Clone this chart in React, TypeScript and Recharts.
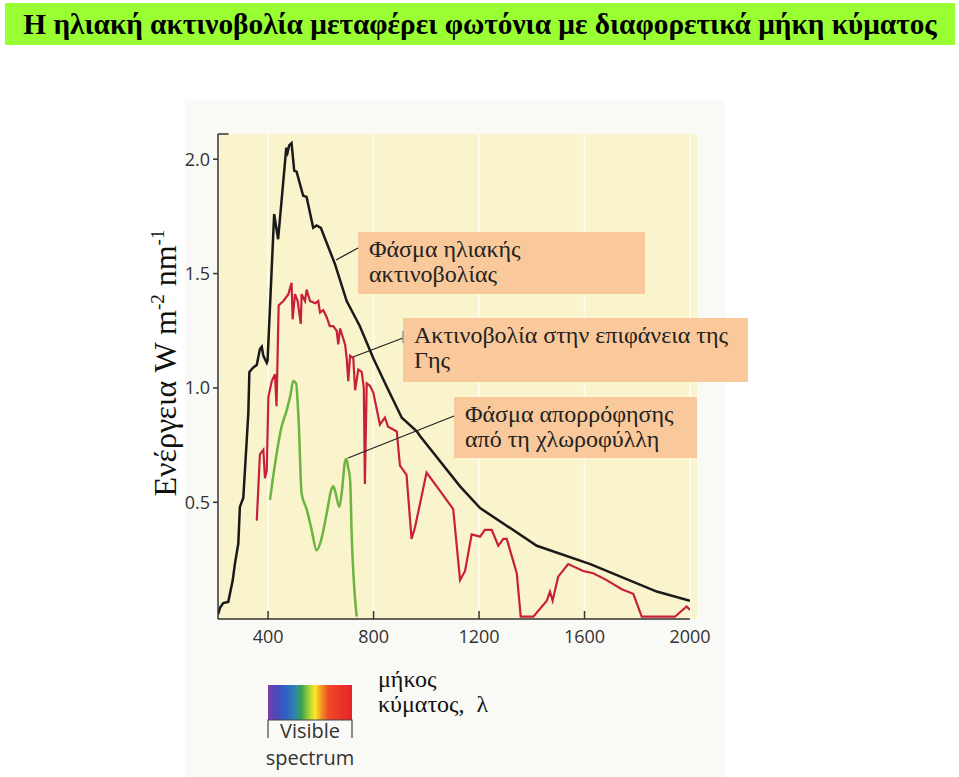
import { LineChart, Line, XAxis, YAxis, CartesianGrid, ReferenceLine } from "recharts";

// wavelength (nm) and energy (W m-2 nm-1)
const solarNm = [210, 218, 230, 249, 266, 274, 287, 293, 306, 325, 329, 344, 357, 369, 376, 382, 395, 398, 423, 438, 469, 474, 480, 489, 499, 508, 533, 546, 571, 584, 600, 654, 698, 748, 799, 850, 907, 964, 976, 1128, 1204, 1419, 1622, 1874, 2000];
const solarE = [0.01, 0.04, 0.06, 0.065, 0.16, 0.23, 0.32, 0.48, 0.52, 0.89, 1.07, 1.09, 1.1, 1.17, 1.18, 1.14, 1.11, 1.12, 1.76, 1.65, 2.05, 2.03, 2.06, 2.07, 1.95, 1.945, 1.84, 1.835, 1.7, 1.71, 1.7, 1.54, 1.38, 1.27, 1.13, 1.005, 0.87, 0.81, 0.79, 0.57, 0.475, 0.31, 0.23, 0.11, 0.07];

const surfaceNm = [357, 369, 382, 388, 395, 401, 414, 426, 432, 440, 458, 477, 489, 493, 502, 512, 524, 527, 540, 546, 559, 578, 590, 597, 609, 622, 634, 647, 660, 666, 673, 692, 698, 704, 711, 723, 730, 742, 755, 763, 767, 774, 786, 799, 824, 843, 855, 888, 900, 925, 944, 957, 1001, 1052, 1102, 1128, 1147, 1172, 1204, 1222, 1248, 1273, 1292, 1305, 1343, 1358, 1406, 1457, 1469, 1479, 1500, 1538, 1595, 1633, 1684, 1741, 1785, 1817, 1943, 1987, 2000];
const surfaceE = [0.42, 0.71, 0.73, 0.605, 0.64, 0.96, 1.03, 1.06, 0.92, 1.36, 1.38, 1.41, 1.46, 1.3, 1.41, 1.38, 1.28, 1.41, 1.38, 1.43, 1.38, 1.37, 1.38, 1.33, 1.34, 1.31, 1.27, 1.27, 1.25, 1.19, 1.26, 1.19, 1.13, 1.03, 1.14, 1.13, 0.99, 1.08, 1.07, 1.0, 0.58, 1.02, 1.01, 0.98, 0.84, 0.87, 0.83, 0.81, 0.66, 0.62, 0.34, 0.39, 0.63, 0.55, 0.47, 0.16, 0.2, 0.36, 0.35, 0.38, 0.38, 0.31, 0.34, 0.34, 0.19, 0, 0, 0.07, 0.11, 0.07, 0.175, 0.23, 0.2, 0.19, 0.16, 0.12, 0.1, 0, 0, 0.045, 0.03];

const chlNm = [407, 432, 451, 470, 485, 495, 506, 516, 527, 546, 565, 584, 600, 622, 641, 647, 654, 670, 680, 692, 697, 704, 711, 717, 736];
const chlE = [0.51, 0.71, 0.83, 0.9, 0.97, 1.03, 1.02, 0.85, 0.54, 0.47, 0.38, 0.29, 0.33, 0.45, 0.56, 0.57, 0.55, 0.48, 0.55, 0.68, 0.69, 0.65, 0.6, 0.36, 0];

const xTicks = [400, 800, 1200, 1600, 2000];
const yTicks = [0.5, 1.0, 1.5, 2.0];

const X_MIN = 210;
const X_MAX = 2000;
const Y_MIN = -0.01;
const Y_MAX = 2.11;

const zip = (xs: number[], ys: number[]) => xs.map((nm, i) => ({ nm, v: ys[i] }));
const solarData = zip(solarNm, solarE);
const surfaceData = zip(surfaceNm, surfaceE);
const chlData = zip(chlNm, chlE);

const serif = "'Liberation Serif', 'DejaVu Serif', serif";
const sans = "'Open Sans', 'Noto Sans', sans-serif";

const boxStyle = (left: number, top: number, width: number, height: number): React.CSSProperties => ({
    position: "absolute",
    left,
    top,
    width,
    height,
    background: "#f9c99c",
    fontFamily: serif,
    fontSize: 24,
    lineHeight: "25px",
    color: "#222",
    boxSizing: "border-box",
    padding: "5px 0 0 11px",
    whiteSpace: "nowrap",
});

export default function App() {
    return (
        <div style={{ position: "relative", width: 959, height: 777, background: "#fff", overflow: "hidden" }}>
            <style>{`body{margin:0}`}</style>

            {/* title bar */}
            <div
                style={{
                    position: "absolute",
                    left: 5,
                    top: 3,
                    width: 950,
                    height: 42,
                    background: "#99ff33",
                    fontFamily: serif,
                    fontWeight: "bold",
                    fontSize: 29.3,
                    lineHeight: "42px",
                    textAlign: "center",
                    color: "#000",
                    whiteSpace: "nowrap",
                }}
            >
                Η ηλιακή ακτινοβολία μεταφέρει φωτόνια με διαφορετικά μήκη κύματος
            </div>

            {/* scanned page + plot area background */}
            <div style={{ position: "absolute", left: 185, top: 100, width: 540, height: 677, background: "#f9f9f6" }} />
            <div style={{ position: "absolute", left: 218, top: 134, width: 479, height: 485, background: "#faf4cc" }} />

            <div style={{ position: "absolute", left: 0, top: 0 }}>
                <LineChart width={959} height={777} margin={{ top: 134, right: 269, bottom: 128, left: 178 }}>
                    <CartesianGrid horizontal={false} stroke="#fdfbec" strokeWidth={2} />
                    <XAxis
                        type="number"
                        dataKey="nm"
                        domain={[X_MIN, X_MAX]}
                        ticks={xTicks}
                        interval={0}
                        allowDataOverflow
                        height={30}
                        tickSize={0}
                        tickMargin={11}
                        stroke="#333"
                        strokeWidth={1.5}
                        tick={{ fill: "#333", fontSize: 18, fontFamily: sans }}
                    />
                    <YAxis
                        type="number"
                        domain={[Y_MIN, Y_MAX]}
                        ticks={yTicks}
                        interval={0}
                        allowDataOverflow
                        width={40}
                        tickSize={5}
                        tickMargin={3}
                        stroke="#333"
                        strokeWidth={1.5}
                        tickFormatter={(v: number) => v.toFixed(1)}
                        tick={{ fill: "#333", fontSize: 18, fontFamily: sans }}
                    />
                    {xTicks.slice(0, -1).map((t) => (
                        <ReferenceLine
                            key={t}
                            segment={[{ x: t, y: Y_MIN }, { x: t, y: Y_MIN + 0.035 }]}
                            stroke="#333"
                            strokeWidth={1.5}
                            ifOverflow="visible"
                        />
                    ))}
                    <ReferenceLine
                        segment={[{ x: X_MIN, y: Y_MAX }, { x: X_MIN + 40, y: Y_MAX }]}
                        stroke="#333"
                        strokeWidth={1.5}
                        ifOverflow="visible"
                    />
                    <Line
                        data={solarData}
                        dataKey="v"
                        type="linear"
                        stroke="#1a1a1a"
                        strokeWidth={2.5}
                        dot={false}
                        isAnimationActive={false}
                    />
                    <Line
                        data={surfaceData}
                        dataKey="v"
                        type="linear"
                        stroke="#c8203c"
                        strokeWidth={2.2}
                        dot={false}
                        isAnimationActive={false}
                    />
                    <Line
                        data={chlData}
                        dataKey="v"
                        type="monotone"
                        stroke="#6cb33f"
                        strokeWidth={2.5}
                        dot={false}
                        isAnimationActive={false}
                    />
                </LineChart>
            </div>

            {/* annotation boxes */}
            <div style={boxStyle(358, 232, 287, 62)}>
                Φάσμα ηλιακής
                <br />
                ακτινοβολίας
            </div>
            <div style={boxStyle(403, 318, 345, 64)}>
                Ακτινοβολία στην επιφάνεια της
                <br />
                Γης
            </div>
            <div style={boxStyle(454, 397, 243, 61)}>
                Φάσμα απορρόφησης
                <br />
                από τη χλωροφύλλη
            </div>

            {/* leader lines, axis title, spectrum bar */}
            <svg style={{ position: "absolute", left: 0, top: 0 }} width={959} height={777}>
                <defs>
                    <linearGradient id="visible" x1="0" y1="0" x2="1" y2="0">
                        <stop offset="0%" stopColor="#7a3ea6" />
                        <stop offset="10%" stopColor="#4a48bc" />
                        <stop offset="22%" stopColor="#2f62c6" />
                        <stop offset="32%" stopColor="#2f86b0" />
                        <stop offset="40%" stopColor="#3aa14c" />
                        <stop offset="49%" stopColor="#a6d23a" />
                        <stop offset="56%" stopColor="#ffe828" />
                        <stop offset="63%" stopColor="#f39a24" />
                        <stop offset="72%" stopColor="#ee4a26" />
                        <stop offset="100%" stopColor="#e6222c" />
                    </linearGradient>
                </defs>
                <line x1={336} y1={260} x2={358} y2={248} stroke="#222" strokeWidth={1.3} />
                <line x1={353} y1={357} x2={403} y2={338} stroke="#222" strokeWidth={1.3} />
                <line x1={403} y1={331} x2={403} y2={343} stroke="#999" strokeWidth={1.5} />
                <line x1={348} y1={458} x2={454} y2={416} stroke="#222" strokeWidth={1.3} />

                <text
                    transform="translate(176,363) rotate(-90)"
                    textAnchor="middle"
                    fontFamily={serif}
                    fontSize={32}
                    fill="#111"
                >
                    Ενέργεια W m
                    <tspan dy={-12} fontSize={19}>-2</tspan>
                    <tspan dy={12}> nm</tspan>
                    <tspan dy={-12} fontSize={19}>-1</tspan>
                </text>

                <rect x={268} y={685} width={84} height={35} fill="url(#visible)" />
                <path d="M268,738 V720 H352 V738" fill="none" stroke="#444" strokeWidth={1.2} />
                <text x={310} y={738} textAnchor="middle" fontFamily={sans} fontSize={20} fill="#333">
                    Visible
                </text>
                <text x={310} y={765} textAnchor="middle" fontFamily={sans} fontSize={20} fill="#333">
                    spectrum
                </text>

                <text x={378} y={687} fontFamily={serif} fontSize={24} fill="#111">
                    μήκος
                </text>
                <text x={378} y={712} fontFamily={serif} fontSize={24} fill="#111" style={{ whiteSpace: "pre" }}>
                    κύματος,  λ
                </text>
            </svg>
        </div>
    );
}
